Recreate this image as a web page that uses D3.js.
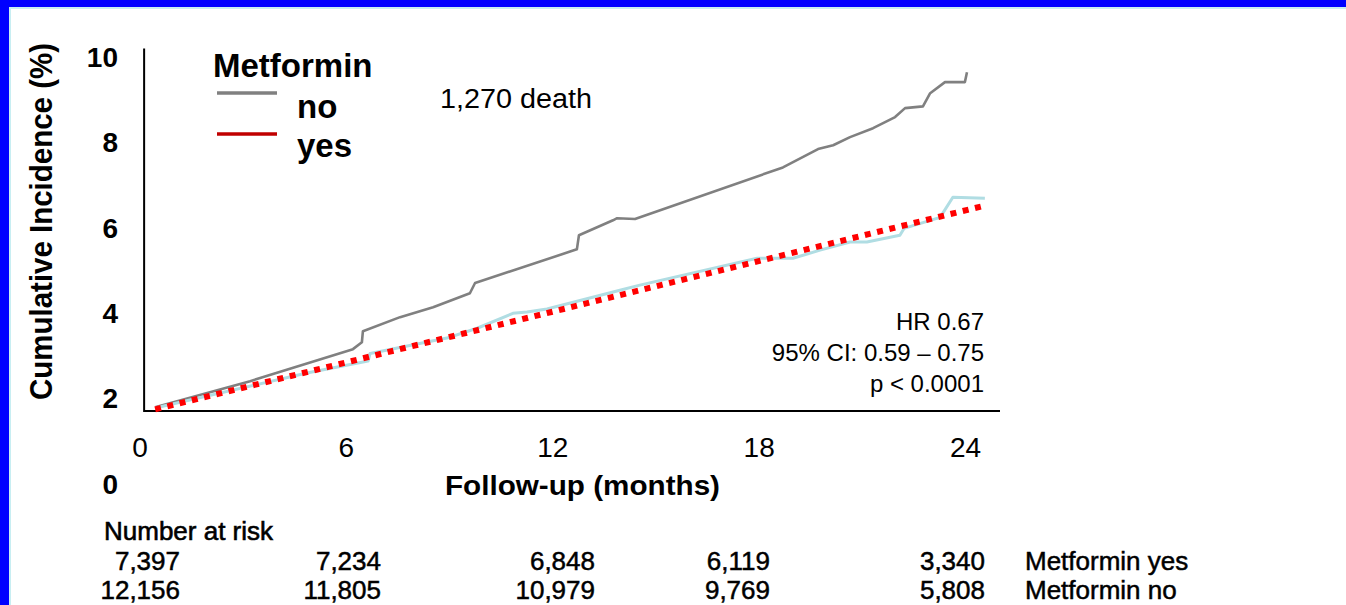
<!DOCTYPE html>
<html>
<head>
<meta charset="utf-8">
<script src="https://cdn.jsdelivr.net/npm/d3@7"></script>
<style>
  html, body { margin: 0; padding: 0; background: #fff; }
  svg { display: block; }
  text { font-family: "Liberation Sans", Arial, sans-serif; }
</style>
</head>
<body>
<svg id="chart" width="1346" height="605"></svg>
<script>
// ---------------- DATA ----------------
const xTicks = [0, 6, 12, 18, 24];
const yTicks = [0, 2, 4, 6, 8, 10];

// Metformin "no" (grey)
const noMonths = [0.44, 3.20, 6.19, 6.45, 6.48, 7.56, 8.52, 9.59, 9.74, 12.70, 12.76, 13.75, 13.87, 14.39, 18.69, 19.71, 20.15, 20.64, 21.31, 21.95, 22.24, 22.76, 22.97, 23.40, 23.98, 24.04];
const noValues = [1.79, 2.40, 3.15, 3.31, 3.57, 3.90, 4.13, 4.46, 4.70, 5.49, 5.82, 6.17, 6.22, 6.20, 7.41, 7.84, 7.93, 8.12, 8.33, 8.59, 8.80, 8.84, 9.15, 9.41, 9.41, 9.64];

// Metformin "yes" (light blue)
const yesMonths = [0.44, 4.85, 6.63, 6.69, 8.92, 9.80, 10.84, 11.25, 11.83, 13.95, 14.53, 17.94, 18.98, 19.77, 20.64, 21.13, 22.09, 22.21, 23.26, 23.63, 24.56];
const yesValues = [1.77, 2.59, 2.87, 3.05, 3.41, 3.64, 3.99, 4.02, 4.09, 4.53, 4.65, 5.28, 5.28, 5.47, 5.66, 5.66, 5.82, 5.98, 6.24, 6.71, 6.69];

// red dotted trend for "yes"
const fitMonths = [0.44, 24.48];
const fitValues = [1.74, 6.50];

const legendLabels = ["no", "yes"];
const statLines = ["HR 0.67", "95% CI: 0.59 \u2013 0.75", "p < 0.0001"];

const riskRows = ["Metformin yes", "Metformin no"];
const riskYes = ["7,397", "7,234", "6,848", "6,119", "3,340"];
const riskNo  = ["12,156", "11,805", "10,979", "9,769", "5,808"];

// ---------------- LAYOUT ----------------
const svg = d3.select("#chart");
const W = 1346, H = 605;

const x = d3.scaleLinear().domain([0, 25]).range([140, 1000]);
const y = d3.scaleLinear().domain([1.7, 10.2]).range([411, 48.4]);

// frame (blue slide border)
svg.append("rect").attr("x", 0).attr("y", 0).attr("width", W).attr("height", 9).attr("fill", "#c8eef2");
svg.append("rect").attr("x", 0).attr("y", 0).attr("width", 11).attr("height", H).attr("fill", "#c8eef2");
svg.append("rect").attr("x", 0).attr("y", 0).attr("width", W).attr("height", 7).attr("fill", "#0000ff");
svg.append("rect").attr("x", 0).attr("y", 0).attr("width", 9).attr("height", H).attr("fill", "#0000ff");

// axes lines
svg.append("path")
  .attr("d", `M${x(0.12)},${y(10.2)} L${x(0.12)},${y(1.7)} L${x(25)},${y(1.7)}`)
  .attr("fill", "none").attr("stroke", "#000").attr("stroke-width", 2);

// y tick labels (bold)
svg.append("g").selectAll("text").data(yTicks).join("text")
  .attr("x", 118).attr("y", d => y(d)).attr("dy", "0.36em")
  .attr("text-anchor", "end").attr("font-size", 28).attr("font-weight", "bold")
  .text(d => d);

// x tick labels
svg.append("g").selectAll("text").data(xTicks).join("text")
  .attr("x", d => x(d)).attr("y", 457)
  .attr("text-anchor", "middle").attr("font-size", 28)
  .text(d => d);

// axis titles
svg.append("text")
  .attr("transform", `translate(52,${(43 + 400) / 2}) rotate(-90)`)
  .attr("text-anchor", "middle").attr("font-size", 31).attr("font-weight", "bold")
  .attr("textLength", 357).attr("lengthAdjust", "spacingAndGlyphs")
  .text("Cumulative Incidence (%)");

svg.append("text")
  .attr("x", 445).attr("y", 495)
  .attr("font-size", 28).attr("font-weight", "bold")
  .attr("textLength", 275).attr("lengthAdjust", "spacingAndGlyphs")
  .text("Follow-up (months)");

// curves
const line = d3.line().x(d => x(d[0])).y(d => y(d[1]));
const noData = noMonths.map((m, i) => [m, noValues[i]]);
const yesData = yesMonths.map((m, i) => [m, yesValues[i]]);
const fitData = fitMonths.map((m, i) => [m, fitValues[i]]);

svg.append("path").datum(noData).attr("d", line)
  .attr("fill", "none").attr("stroke", "#808080").attr("stroke-width", 2.6).attr("stroke-linejoin", "round");
svg.append("path").datum(yesData).attr("d", line)
  .attr("fill", "none").attr("stroke", "#b0dde3").attr("stroke-width", 3).attr("stroke-linejoin", "round");
svg.append("path").datum(fitData).attr("d", line)
  .attr("fill", "none").attr("stroke", "#ff0000").attr("stroke-width", 6).attr("stroke-dasharray", "6,6.6");

// legend
svg.append("text").attr("x", 213).attr("y", 77).attr("font-size", 33).attr("font-weight", "bold").text("Metformin");
const legColors = ["#808080", "#c00000"];
const legLineY = [93, 134];
const legTextY = [118, 157];
legendLabels.forEach((lab, i) => {
  svg.append("line").attr("x1", 217).attr("x2", 277).attr("y1", legLineY[i]).attr("y2", legLineY[i])
    .attr("stroke", legColors[i]).attr("stroke-width", 3.3);
  svg.append("text").attr("x", 297).attr("y", legTextY[i]).attr("font-size", 33).attr("font-weight", "bold").text(lab);
});

// annotations
svg.append("text").attr("x", 440).attr("y", 108).attr("font-size", 27)
  .attr("textLength", 152).attr("lengthAdjust", "spacingAndGlyphs").text("1,270 death");

const statY = [330, 361, 392];
statLines.forEach((t, i) => {
  svg.append("text").attr("x", 984).attr("y", statY[i]).attr("text-anchor", "end")
    .attr("font-size", 24).text(t);
});

// number at risk table
const riskColRight = [180, 381, 595, 770, 985];
svg.append("text").attr("x", 104).attr("y", 540).attr("font-size", 26)
  .attr("stroke", "#000").attr("stroke-width", 0.6).text("Number at risk");
[riskYes, riskNo].forEach((row, r) => {
  const yy = [570, 599][r];
  svg.append("g").selectAll("text").data(row).join("text")
    .attr("x", (d, i) => riskColRight[i]).attr("y", yy)
    .attr("text-anchor", "end").attr("font-size", 26)
    .attr("stroke", "#000").attr("stroke-width", 0.5)
    .text(d => d);
  svg.append("text").attr("x", 1025).attr("y", yy).attr("font-size", 26)
    .attr("stroke", "#000").attr("stroke-width", 0.5).text(riskRows[r]);
});
</script>
</body>
</html>
